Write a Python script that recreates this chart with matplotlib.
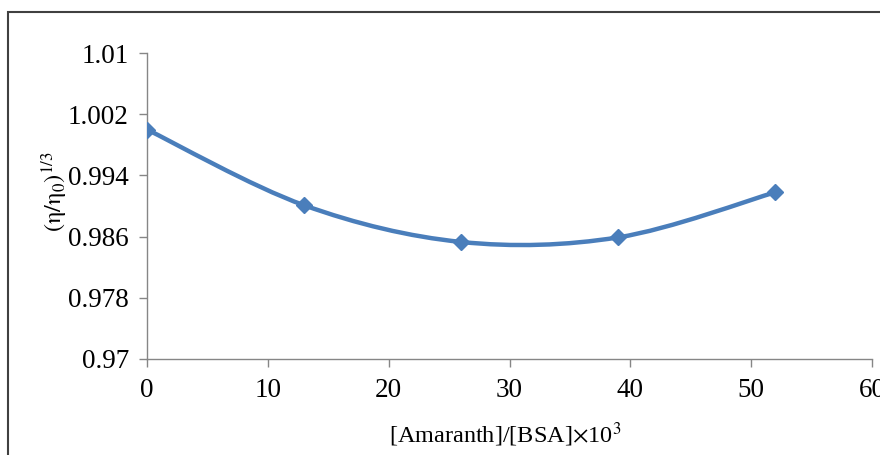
import matplotlib
matplotlib.use('Agg')
import matplotlib.pyplot as plt
from matplotlib.path import Path
from matplotlib.patches import PathPatch, Rectangle
import numpy as np

# data
ratio = [0, 13, 26, 39, 52]
visc = [1.0000, 0.9901, 0.9853, 0.9859, 0.9918]

xticks = [0, 10, 20, 30, 40, 50, 60]
yticks = [0.97, 0.978, 0.986, 0.994, 1.002, 1.01]
ytick_labels = ['0.97', '0.978', '0.986', '0.994', '1.002', '1.01']

blue = '#4a7ebb'
grey = '#868686'

plt.rcParams['font.family'] = ['Liberation Serif', 'DejaVu Serif']
plt.rcParams['mathtext.fontset'] = 'stix'


def smooth_path(x, y):
    # excel style smoothed line: catmull-rom converted to bezier segments
    pts = np.column_stack([x, y]).astype(float)
    n = len(pts)
    verts = [pts[0]]
    codes = [Path.MOVETO]
    for i in range(n - 1):
        p0 = pts[i - 1] if i > 0 else pts[i]
        p1 = pts[i]
        p2 = pts[i + 1]
        p3 = pts[i + 2] if i + 2 < n else pts[i + 1]
        c1 = p1 + (p2 - p0) / 6.0
        c2 = p2 - (p3 - p1) / 6.0
        verts += [c1, c2, p2]
        codes += [Path.CURVE4] * 3
    return Path(verts, codes)


fig = plt.figure(figsize=(8.8, 4.55), dpi=100)
ax = fig.add_axes([0.167, 0.211, 0.824, 0.6725])

ax.add_patch(PathPatch(smooth_path(ratio, visc), fill=False, edgecolor=blue,
                       lw=3.2, capstyle='round', zorder=3))
ax.plot(ratio, visc, linestyle='none', marker='D', ms=8, color=blue, zorder=4)

ax.set_xlim(0, 60)
ax.set_ylim(0.97, 1.01)
ax.set_xticks(xticks)
ax.set_yticks(yticks)
ax.set_yticklabels(ytick_labels)

for s in ['top', 'right']:
    ax.spines[s].set_visible(False)
for s in ['left', 'bottom']:
    ax.spines[s].set_color(grey)
    ax.spines[s].set_linewidth(1.0)
ax.tick_params(direction='out', length=6, width=1, color=grey,
               labelsize=19.5)
ax.tick_params(axis='x', pad=8)
ax.tick_params(axis='y', pad=7)

fig.text(0.062, 0.578, r'$(\mathrm{\eta/\eta_0})^{1/3}$', rotation=90,
         ha='center', va='center', fontsize=17.5)
fig.text(0.574, 0.044, r'[Amaranth]/[BSA]$\times$10$^3$', ha='center',
         va='center', fontsize=17.5)

# outer frame of the original excel chart
fig.patches.append(Rectangle((8 / 880, -0.1), 1.2, 1 - 12 / 455 + 0.1,
                             transform=fig.transFigure, fill=False,
                             edgecolor='#404040', lw=1.5))

fig.savefig('out.png', dpi=100)
